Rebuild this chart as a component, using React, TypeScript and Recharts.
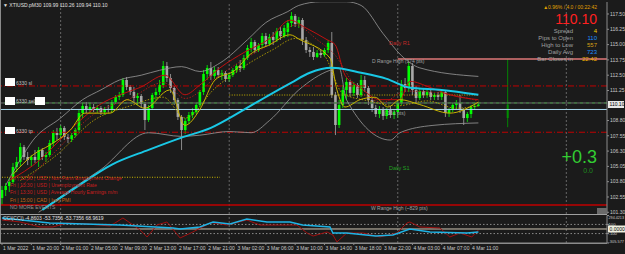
import React from "react";
import { ComposedChart, Bar, Line, XAxis, YAxis, ReferenceLine } from "recharts";

// XTIUSD M30, one candle per half hour, index 0 = 1 Mar 2022 afternoon
const opens = [
  102.47, 103.12, 103.45, 103.78, 105.0, 105.41, 106.63, 105.82, 105.57, 105.82,
  105.57, 106.39, 105.82, 105.98, 106.96, 107.78, 107.61, 108.19, 107.45, 107.29,
  107.61, 108.02, 109.41, 109.98, 109.66, 109.9, 109.66, 109.82, 109.49, 109.74,
  109.66, 110.31, 110.72, 110.88, 112.11, 111.54, 111.13, 110.64, 110.8, 110.15,
  108.84, 109.82, 110.88, 111.13, 111.7, 113.25, 112.27, 111.45, 110.47, 109.09,
  108.02, 108.76, 109.25, 109.49, 110.07, 111.13, 112.6, 113.09, 112.43, 112.93,
  112.52, 112.68, 112.19, 112.52, 112.93, 113.25, 113.09, 113.91, 114.72, 115.21,
  114.56, 114.97, 115.7, 115.05, 115.62, 115.38, 116.11, 115.7, 116.03, 116.76,
  117.34, 116.68, 117.01, 115.38, 114.56, 114.4, 113.99, 114.31, 114.15, 114.56,
  115.13, 110.88, 108.43, 110.07, 111.29, 111.95, 111.05, 111.7, 110.88, 112.11,
  111.45, 110.47, 109.82, 109.33, 109.74, 109.17, 109.66, 109.25, 109.49, 110.23,
  111.78, 111.45, 113.25, 111.29, 110.64, 111.21, 110.88, 111.13, 110.72, 110.88,
  110.72, 111.13, 109.41, 109.66, 110.07, 110.23, 109.66, 109.0, 109.33, 109.9,
  109.99,
];
const highs = [
  103.45, 103.69, 104.1, 105.33, 105.82, 106.96, 106.8, 106.23, 105.98, 106.39,
  106.63, 106.55, 106.23, 107.21, 108.02, 108.19, 108.43, 108.35, 107.7, 107.78,
  108.19, 109.66, 110.23, 110.31, 110.23, 110.15, 110.07, 109.98, 109.9, 110.07,
  110.47, 110.88, 111.13, 112.27, 112.35, 111.7, 111.54, 111.05, 110.96, 110.31,
  110.07, 111.05, 111.45, 112.11, 113.66, 113.58, 112.6, 111.62, 110.64, 109.25,
  109.0, 109.49, 109.82, 110.23, 111.29, 112.93, 113.33, 113.58, 113.17, 113.17,
  112.93, 112.84, 112.68, 113.09, 113.42, 113.74, 114.15, 114.97, 115.54, 115.38,
  115.13, 115.95, 115.95, 115.87, 116.03, 116.36, 116.44, 116.6, 117.01, 117.66,
  117.5, 117.26, 117.17, 115.62, 114.8, 114.8, 114.56, 114.56, 114.72, 115.38,
  116.03, 111.13, 110.47, 111.7, 112.27, 112.11, 111.95, 111.86, 112.52, 112.43,
  111.62, 110.64, 110.07, 109.98, 109.9, 109.82, 109.98, 109.74, 110.47, 112.11,
  112.27, 113.58, 113.5, 111.62, 111.45, 111.37, 111.29, 111.29, 111.05, 111.13,
  111.29, 111.29, 109.82, 110.23, 110.47, 110.88, 109.82, 109.49, 110.07, 110.23,
  110.26,
];
const lows = [
  101.9, 102.63, 102.96, 103.61, 104.59, 105.08, 105.57, 105.16, 105.0, 105.33,
  105.0, 105.57, 105.41, 105.82, 106.63, 107.21, 107.37, 107.21, 106.96, 107.04,
  107.45, 107.86, 109.0, 109.41, 109.41, 109.49, 109.41, 109.25, 109.25, 109.49,
  109.41, 110.15, 110.47, 110.72, 111.29, 110.88, 110.23, 110.07, 109.82, 108.02,
  108.68, 109.66, 110.47, 110.88, 111.45, 111.95, 111.05, 110.07, 108.84, 106.39,
  107.7, 108.51, 109.0, 109.33, 109.9, 110.88, 112.11, 112.11, 112.19, 112.27,
  112.11, 111.95, 111.95, 112.35, 112.68, 112.76, 112.93, 113.74, 114.4, 114.31,
  114.4, 114.72, 114.8, 114.89, 114.97, 115.21, 115.38, 115.54, 115.62, 116.44,
  116.44, 116.36, 114.97, 114.31, 113.99, 113.74, 113.91, 113.91, 113.99, 114.31,
  110.64, 107.61, 108.19, 109.82, 110.47, 110.72, 110.8, 110.64, 110.72, 111.13,
  110.07, 109.49, 109.09, 109.0, 108.84, 108.92, 109.0, 108.92, 109.0, 110.07,
  111.13, 111.13, 110.88, 110.23, 110.47, 110.64, 110.64, 110.47, 110.47, 110.47,
  110.47, 109.09, 109.09, 109.49, 109.66, 109.41, 108.43, 108.68, 109.0, 109.66,
  109.94,
];
const closes = [
  103.12, 103.45, 103.78, 105.0, 105.41, 106.63, 105.82, 105.57, 105.82, 105.57,
  106.39, 105.82, 105.98, 106.96, 107.78, 107.61, 108.19, 107.45, 107.29, 107.61,
  108.02, 109.41, 109.98, 109.66, 109.9, 109.66, 109.82, 109.49, 109.74, 109.66,
  110.31, 110.72, 110.88, 112.11, 111.54, 111.13, 110.64, 110.8, 110.15, 108.84,
  109.82, 110.88, 111.13, 111.7, 113.25, 112.27, 111.45, 110.47, 109.09, 108.02,
  108.76, 109.25, 109.49, 110.07, 111.13, 112.6, 113.09, 112.43, 112.93, 112.52,
  112.68, 112.19, 112.52, 112.93, 113.25, 113.09, 113.91, 114.72, 115.21, 114.56,
  114.97, 115.7, 115.05, 115.62, 115.38, 116.11, 115.7, 116.36, 116.76, 117.34,
  116.68, 117.01, 115.38, 114.56, 114.4, 113.99, 114.31, 114.15, 114.56, 115.13,
  110.88, 108.43, 110.07, 111.29, 111.95, 111.05, 111.7, 110.88, 112.11, 111.45,
  110.47, 109.82, 109.33, 109.74, 109.17, 109.66, 109.25, 109.49, 110.23, 111.78,
  111.45, 113.25, 111.29, 110.64, 111.21, 110.88, 111.13, 110.72, 110.88, 110.72,
  111.13, 109.41, 109.66, 110.07, 110.23, 109.66, 109.0, 109.33, 109.9, 109.98,
  110.1,
];

// daily candle drawn by the info indicator, right of the last bar
const dayCandle = { i: 138, o: 109.0, h: 113.82, l: 108.25, c: 110.1 };

// overlays: [bar index, price]
const maCyan = [
  [11, 101.5], [20, 103.3], [30, 105.2], [40, 106.4], [49, 107.4], [57, 108.2], [65, 109.5],
  [73, 110.9], [79, 111.9], [84, 112.7], [90, 113.1], [98, 112.7], [105, 112.2], [111, 111.5],
  [120, 111.3], [130, 110.9],
];
const bandUpper = [
  [1, 103.5], [5, 105.6], [8.5, 107.2], [16, 109.0], [22, 110.5], [27, 111.3], [32, 112.1],
  [38, 112.5], [43, 112.9], [49, 113.2], [54, 112.8], [59.5, 113.5], [67, 115.4], [72, 116.8],
  [78, 117.7], [81, 118.2], [87, 118.5], [94, 118.5], [98, 118.2], [104, 115.9], [109, 114.1],
  [114, 113.1], [130, 112.4],
];
const bandLower = [
  [10, 101.3], [18.5, 103.1], [27, 104.8], [40, 107.8], [49, 107.5], [54, 107.6], [62, 107.9],
  [68, 107.8], [73, 108.8], [81, 111.3], [89.5, 112.9], [92, 113.1], [94, 110.5], [106, 107.2],
  [108.6, 107.8], [117.6, 108.4], [130, 108.6],
];
const maRed = [
  [2, 103.9], [10.4, 105.6], [15.8, 107.2], [21.3, 108.8], [26.7, 110.1], [32.2, 110.9],
  [37.7, 111.5], [44.5, 112.5], [49.9, 110.9], [54, 111.7], [59.5, 113.1], [66.3, 114.4],
  [73.1, 115.5], [78.6, 117.0], [82.7, 116.4], [88.7, 115.4], [90.9, 115.0], [93.6, 112.5],
  [97.7, 111.5], [103.1, 110.5], [108.6, 110.5], [111.3, 112.0], [116.8, 111.5], [122.2, 110.9],
  [130, 110.5],
];
const maRedDot = [
  [5, 103.3], [15, 106.4], [25, 109.3], [35, 110.6], [44, 111.9], [50, 110.6], [58, 112.2],
  [66, 113.8], [74, 115.2], [80, 116.6], [86, 115.4], [91, 114.1], [96, 111.8], [104, 110.3],
  [110, 111.2], [118, 111.1], [130, 110.4],
];
const maYellow = [
  [3, 104.4], [8.5, 106.0], [13.1, 106.8], [18.6, 108.0], [22.6, 109.4], [29.5, 109.4],
  [34.1, 110.5], [39, 109.8], [45.8, 111.3], [49.9, 108.4], [54, 109.7], [58.1, 112.1],
  [63.6, 112.9], [67.7, 114.2], [73.1, 115.0], [78.6, 115.8], [81.3, 115.4], [89.5, 113.9],
  [91.4, 111.3], [93.6, 109.9], [97.7, 110.5], [101.8, 110.7], [105.3, 109.9], [108.6, 110.5],
  [114, 110.1], [122.2, 109.4], [130, 110.3],
];
const maYellowDot = [
  [5, 103.9], [15, 106.0], [25, 108.8], [35, 110.0], [44, 110.7], [50, 109.0], [58, 111.4],
  [66, 113.2], [74, 114.6], [80, 115.5], [88, 114.1], [93, 111.0], [100, 110.4], [108, 110.0],
  [116, 110.4], [124, 109.8], [130, 110.0],
];

// CCI sub window
const cciCyan = [
  [0, 240], [8, 174], [13, 131], [32, 87], [46.7, 22], [48.6, 0], [54, 44], [57.6, 153],
  [62.2, 109], [66.8, 218], [72.3, 153], [78.6, 153], [82, 87], [89.5, 44], [90.3, -87],
  [94, -87], [102, -153], [106.7, -131], [111.3, 0], [116.8, -65], [126.9, -87], [130, -65],
];
const cciRed = [
  [0, 196], [4.9, 153], [10.4, 44], [13.9, 44], [17.7, 131], [23.2, 109], [29.5, 65], [33, 240],
  [37.7, -22], [39.6, -174], [42.3, 87], [45, 153], [48.6, -196], [52.1, -65], [57, 140],
  [61.4, 87], [66.8, 196], [70.4, 87], [75.9, 87], [80.5, 87], [83.2, -87], [84.9, -153],
  [88.7, -65], [90.3, -131], [91.4, -283], [94.1, -87], [98.5, -87], [103.1, -174],
  [107.8, -87], [110.5, 131], [111.3, 153], [114, 44], [119.5, 22], [122.2, -174], [125, -87],
  [128.2, -174], [130, -22],
];

const priceTicks = [117.5, 116.25, 115.0, 113.75, 112.5, 111.25, 108.8, 107.55, 106.3, 105.05, 103.8, 102.55, 101.3];
const cciTicks = [294.4213, 100, -100, -305.577];
const timeTicks = [0, 8, 16, 24, 32, 40, 48, 56, 64, 72, 80, 88, 96, 104, 112, 120, 128];
const timeLabels = [
  "1 Mar 2022", "1 Mar 20:00", "2 Mar 01:00", "2 Mar 05:00", "2 Mar 09:00", "2 Mar 13:00",
  "2 Mar 17:00", "2 Mar 21:00", "3 Mar 02:00", "3 Mar 06:00", "3 Mar 10:00", "3 Mar 14:00",
  "3 Mar 18:00", "3 Mar 22:00", "4 Mar 03:00", "4 Mar 07:00", "4 Mar 11:00",
];
const daySeparators = [16, 62, 108, 154];

const news = [
  { text: "Fri  |  13:30  |  USD  |  Non-Farm Employment Change", color: "#c81e1e" },
  { text: "Fri  |  13:30  |  USD  |  Unemployment Rate", color: "#c81e1e" },
  { text: "Fri  |  13:30  |  USD  |  Average Hourly Earnings m/m", color: "#c81e1e" },
  { text: "Fri  |  15:00  |  CAD  |  Ivey PMI", color: "#c86414" },
  { text: "NO MORE EVENTS", color: "#909090" },
];
const infoRows = [
  { label: "Spread", value: "4", color: "#f0d000" },
  { label: "Pips to Open", value: "110", color: "#1e90ff" },
  { label: "High to Low", value: "557", color: "#d4a017" },
  { label: "Daily Avg", value: "723", color: "#1e90ff" },
  { label: "Bar Closes in", value: "22:42", color: "#f0b000" },
];

const BG = "#1b1b1b";
const GRID = "#8c8c8c";
const FONT = "'Liberation Sans', Arial, sans-serif";
const X_DOMAIN: [number, number] = [-0.55, 165.1];

const pts = (arr: number[][]) => arr.map(([i, v]) => ({ i, v }));

function Candle(props: any) {
  let { x, y, width, height, payload } = props;
  if (!payload || height == null) return null;
  if (height < 0) {
    y += height;
    height = -height;
  }
  const { o, h, l, c, daily } = payload;
  const k = height / (h - l || 1);
  const yo = y + (h - o) * k;
  const yc = y + (h - c) * k;
  const cx = x + width / 2;
  const up = c >= o;
  const col = daily ? "#009000" : up ? "#00ff00" : "#a8a8a8";
  const bw = daily ? 2 : 2.6;
  return (
    <g>
      <line x1={cx} x2={cx} y1={y} y2={y + height} stroke={col} strokeWidth={daily ? 0.9 : 0.8} />
      <rect x={cx - bw / 2} y={Math.min(yo, yc)} width={bw} height={Math.max(Math.abs(yo - yc), 0.8)} fill={col} />
    </g>
  );
}

function PriceTick(props: any) {
  const { x, y, payload } = props;
  return (
    <text x={x} y={y} dy={1.8} fontSize={5} fill="#c8c8c8" fontFamily={FONT}>
      {Number(payload.value).toFixed(2)}
    </text>
  );
}

function CciTick(props: any) {
  const { x, y, payload } = props;
  const v = Number(payload.value);
  const edge = Math.abs(v) > 200;
  const shift = v > 200 ? 2 : v < -200 ? -1.5 : 0;
  const txt = v > 200 ? "294.4213" : v < -200 ? "-305.577" : String(v);
  return (
    <text
      x={x - 1.5}
      y={y + shift}
      dy={1.6}
      fontSize={4.2}
      fill="#c8c8c8"
      fontFamily={FONT}
      textLength={edge ? 15.5 : undefined}
      lengthAdjust="spacingAndGlyphs"
    >
      {txt}
    </text>
  );
}

function TimeTick(props: any) {
  const { x, y, payload } = props;
  const idx = timeTicks.indexOf(payload.value);
  return (
    <text x={x + 1} y={y + 3} fontSize={5} fill="#c8c8c8" fontFamily={FONT}>
      {timeLabels[idx]}
    </text>
  );
}

export default function App() {
  const rows: any[] = opens.map((o, i) => ({ i, o, h: highs[i], l: lows[i], c: closes[i] }));
  rows.push({ ...dayCandle, daily: true });

  const line = (data: number[][], color: string, w: number, dash?: string, type: any = "monotone") => (
    <Line
      data={pts(data)}
      dataKey="v"
      type={type}
      stroke={color}
      strokeWidth={w}
      strokeDasharray={dash}
      dot={false}
      activeDot={false}
      isAnimationActive={false}
    />
  );

  return (
    <div style={{ position: "absolute", left: 0, top: 0, width: 625, height: 254, background: BG, overflow: "hidden", fontFamily: FONT }}>
      <div style={{ position: "absolute", left: 0, top: 0 }}>
        <ComposedChart width={625} height={215} data={rows} margin={{ top: 2, right: 0, bottom: 1, left: 0 }}>
          <XAxis dataKey="i" type="number" domain={X_DOMAIN} allowDataOverflow hide />
          <YAxis
            orientation="right"
            type="number"
            width={18}
            domain={[101.16, 118.48]}
            allowDataOverflow
            ticks={priceTicks}
            interval={0}
            tick={<PriceTick />}
            tickSize={2}
            tickMargin={1}
            tickLine={{ stroke: GRID }}
            axisLine={{ stroke: GRID }}
          />
          {daySeparators.map((d) => (
            <ReferenceLine key={d} x={d} stroke="#7a7a7a" strokeDasharray="2 2" strokeWidth={0.8} />
          ))}
          <ReferenceLine y={111.62} stroke="#c00000" strokeDasharray="6 2 1 2" strokeWidth={1} />
          <ReferenceLine y={107.84} stroke="#c00000" strokeDasharray="6 2 1 2" strokeWidth={1} />
          <ReferenceLine y={110.23} stroke="#6e6e6e" strokeWidth={1} />
          <ReferenceLine y={110.23} stroke="#3c8c3c" strokeDasharray="3 3" strokeWidth={1} />
          <ReferenceLine y={109.7} stroke="#a8d8ee" strokeWidth={1} />
          <ReferenceLine y={101.9} stroke="#c00000" strokeWidth={1.5} />
          {line([[62, 110.88], [130, 110.88]], "#c8b400", 1, "1 1.5", "linear")}
          {line([[0, 104.16], [59.5, 104.16]], "#c8b400", 1, "1 1.5", "linear")}
          {line([[108, 113.82], [165.1, 113.82]], "#e07878", 1.5, undefined, "linear")}
          {line(bandUpper, "#9a9a9a", 0.8)}
          {line(bandLower, "#9a9a9a", 0.8)}
          {line(maRedDot, "#b01818", 0.9, "1.5 1.5")}
          {line(maYellowDot, "#b4a000", 0.9, "1.5 1.5")}
          {line(maRed, "#c01010", 1)}
          {line(maYellow, "#c8b400", 1)}
          <Bar dataKey={(d: any) => [d.l, d.h]} barSize={3} shape={<Candle />} isAnimationActive={false} />
          {line(maCyan, "#19c8e6", 2)}
        </ComposedChart>
      </div>

      <div style={{ position: "absolute", left: 0, top: 214 }}>
        <ComposedChart width={625} height={40} margin={{ top: 1.5, right: 0, bottom: 0, left: 0 }}>
          <XAxis
            dataKey="i"
            type="number"
            domain={X_DOMAIN}
            allowDataOverflow
            ticks={timeTicks}
            interval={0}
            height={11}
            tick={<TimeTick />}
            tickSize={2}
            tickLine={{ stroke: GRID }}
            axisLine={{ stroke: GRID }}
          />
          <YAxis
            orientation="right"
            type="number"
            width={18}
            domain={[-305.577, 294.4213]}
            allowDataOverflow
            ticks={cciTicks}
            interval={0}
            tick={<CciTick />}
            tickSize={2}
            tickMargin={1}
            tickLine={{ stroke: GRID }}
            axisLine={{ stroke: GRID }}
          />
          {daySeparators.map((d) => (
            <ReferenceLine key={d} x={d} stroke="#7a7a7a" strokeDasharray="2 2" strokeWidth={0.8} />
          ))}
          <ReferenceLine y={100} stroke="#8a8a8a" strokeDasharray="1.5 2" />
          <ReferenceLine y={-100} stroke="#8a8a8a" strokeDasharray="1.5 2" />
          <ReferenceLine y={0} stroke="#cfc6b4" strokeWidth={1} />
          {line(cciRed, "#a01010", 1, undefined, "linear")}
          {line(cciCyan, "#1eb4e6", 1.4, undefined, "linear")}
        </ComposedChart>
      </div>

      <svg width={625} height={254} style={{ position: "absolute", left: 0, top: 0, pointerEvents: "none" }} fontFamily={FONT}>
        {/* frame */}
        <line x1={0.5} x2={0.5} y1={0} y2={244} stroke={GRID} />
        <line x1={0} x2={607} y1={214.5} y2={214.5} stroke="#a0a0a0" />
        <line x1={0} x2={607} y1={243.5} y2={243.5} stroke={GRID} />
        <rect x={597} y={208} width={10} height={6} fill="#6a6a6a" />

        <text x={3} y={7} fontSize={5} fill="#e0e0e0">▼ XTIUSD.pM30  109.99 110.26 109.94 110.10</text>

        {/* info panel */}
        <text x={597} y={9} fontSize={5} fill="#e0a000" textAnchor="end">▲0.96% / 4.0 / 00:22:42</text>
        <text x={597} y={23.5} fontSize={14} fill="#ff2020" textAnchor="end">110.10</text>
        {infoRows.map((r, k) => (
          <g key={r.label}>
            <text x={573} y={32.5 + k * 7.2} fontSize={6} fill="#a0a0a0" textAnchor="end">{r.label}</text>
            <text x={597} y={32.5 + k * 7.2} fontSize={6} fill={r.color} textAnchor="end">{r.value}</text>
          </g>
        ))}
        <text x={597} y={163} fontSize={18} fill="#32cd32" textAnchor="end">+0.3</text>
        <text x={593} y={173} fontSize={7} fill="#1e8c1e" textAnchor="end">0.0</text>

        {/* level labels */}
        <text x={389} y={45} fontSize={5.5} fill="#c02828">Daily R1</text>
        <text x={372} y={63} fontSize={5} fill="#a0a0a0">D Range High (374 pts)</text>
        <text x={384} y={115} fontSize={5} fill="#a0a0a0">(-161 pts)</text>
        <text x={389} y={170} fontSize={5.5} fill="#20a020">Daily S1</text>
        <text x={371} y={210} fontSize={5} fill="#a0a0a0">W Range High (~829 pts)</text>

        {/* order labels */}
        <rect x={5} y={78} width={10} height={8} fill="#ffffff" />
        <text x={16} y={84.5} fontSize={5} fill="#c0c0c0">6330 sl</text>
        <rect x={5} y={97} width={10} height={8} fill="#ffffff" />
        <text x={16} y={103} fontSize={5} fill="#c0c0c0">6330 sell</text>
        <rect x={35} y={97} width={10} height={8} fill="#ffffff" />
        <rect x={5} y={127} width={10} height={7} fill="#ffffff" />
        <text x={16} y={133} fontSize={5} fill="#c0c0c0">6330 tp</text>

        {/* news */}
        {news.map((n, k) => (
          <text key={k} x={10} y={180 + k * 7.2} fontSize={5} fill={n.color}>{n.text}</text>
        ))}

        <text x={3} y={220} fontSize={5} fill="#e0e0e0">CCI(CCI) -4.8603 -53.7356 -53.7356 68.9619</text>

        {/* current value boxes */}
        <rect x={608} y={101} width={16} height={7} fill="#e8e8e8" />
        <text x={609.5} y={106.3} fontSize={5} fill="#000000">110.10</text>
        <rect x={608} y={225.5} width={17} height={7} fill="#f0f0e0" />
        <text x={609.5} y={230.8} fontSize={5} fill="#000000">0.0000</text>
      </svg>
    </div>
  );
}
